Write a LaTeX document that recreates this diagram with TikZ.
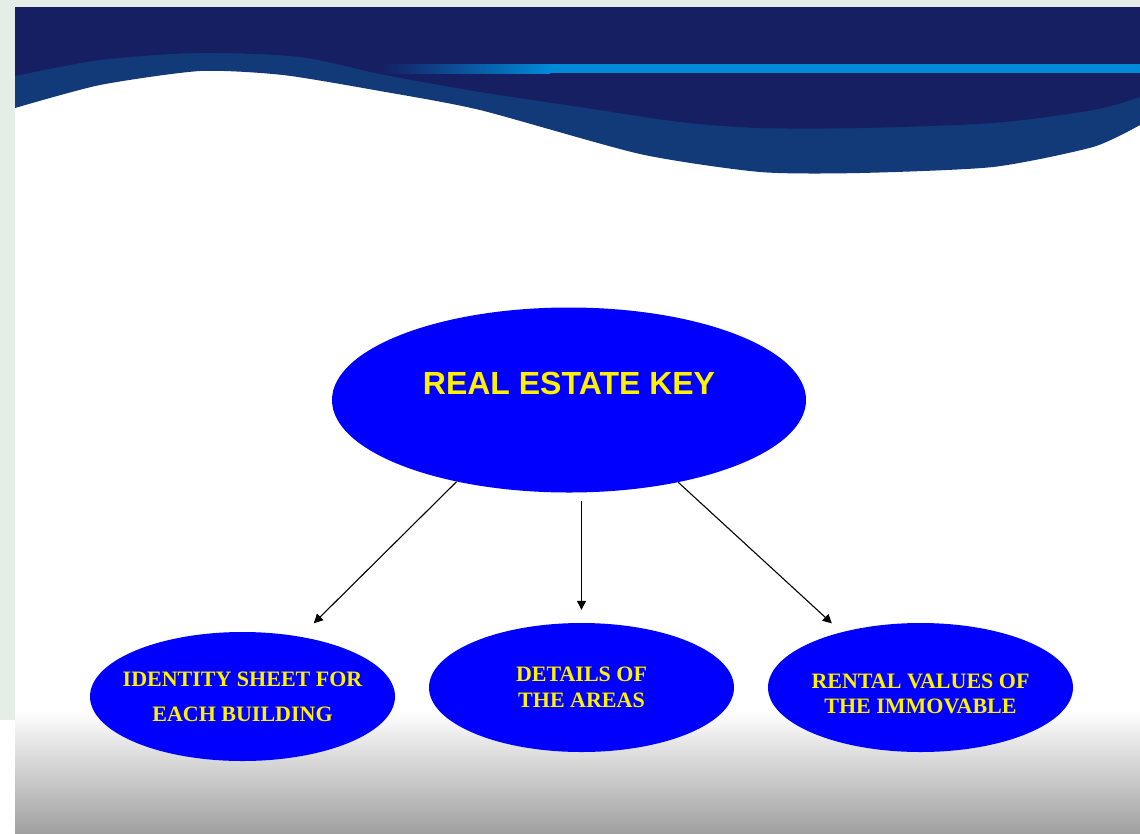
\documentclass[tikz,border=0pt]{standalone}
\usepackage{fontspec}
\setmainfont{Liberation Serif}
\newfontfamily\keyfont{Liberation Sans}
\usetikzlibrary{shapes.geometric,arrows.meta}
\definecolor{navy}{RGB}{21,31,98}
\definecolor{waveblue}{RGB}{18,58,120}
\definecolor{lineblue}{RGB}{0,138,216}
\definecolor{outside}{RGB}{228,237,230}
\definecolor{floorgray}{RGB}{160,160,160}

\begin{document}
\begin{tikzpicture}[x=1pt,y=-1pt,
    bubble/.style={ellipse,fill=blue,inner ysep=0pt,inner xsep=-20pt,text=yellow,align=center,
      font=\bfseries\fontsize{22}{26.5}\selectfont,minimum width=305pt,minimum height=129pt},
    link/.style={-{Triangle[length=9pt,width=9pt]},line width=1.1pt}]
      \useasboundingbox (0,0) rectangle (1140,833);
      \fill[outside] (0,0) rectangle (1140,720);
      \fill[white] (15,7) rectangle (1140,833);
      \shade[top color=white,bottom color=floorgray] (15,710) rectangle (1140,833);

      \fill[waveblue] (15,7) -- (1140,7) -- plot[smooth,tension=0.4] coordinates {(1140,125) (1093,147) (993,167) (860,173) (760,172) (640,154) (480,110) (380,91) (283,75) (200,71) (100,85) (15,108)} -- cycle;
      \fill[navy] (15,7) -- (1140,7) -- plot[smooth,tension=0.5] coordinates {(1140,97) (1093,110) (993,123) (860,128) (760,128) (680,122) (580,107) (480,92) (380,74) (300,57) (200,53) (100,60) (15,76)} -- cycle;
      \shade[left color=navy,right color=lineblue] (380,64) rectangle (550,73);
      \fill[lineblue] (550,64) rectangle (1140,73);

      \draw (569,400) node [bubble,minimum width=474pt,minimum height=185pt,font=\keyfont\bfseries\fontsize{32}{32}\selectfont,text height=22pt,text depth=33pt] (key) {REAL ESTATE KEY};
      \draw (242.5,696.5) node [bubble] (sheet) {IDENTITY SHEET FOR\\[8.5pt]EACH BUILDING};
      \draw (581.5,687.5) node [bubble] (areas) {DETAILS OF\\THE AREAS};
      \draw (920.5,687.5) node [bubble] (rent) {\rule{0pt}{27.5pt}RENTAL VALUES OF\\[-2pt]THE IMMOVABLE};

      \draw[link,shorten >=19pt] (key.216) -- (sheet.46);
      \draw[link,shorten <=8pt,shorten >=13pt] (key.south -| areas.north) -- (areas.north);
      \draw[link,shorten >=13pt] (key.323) -- (rent.145);
    \end{tikzpicture}
\end{document}
